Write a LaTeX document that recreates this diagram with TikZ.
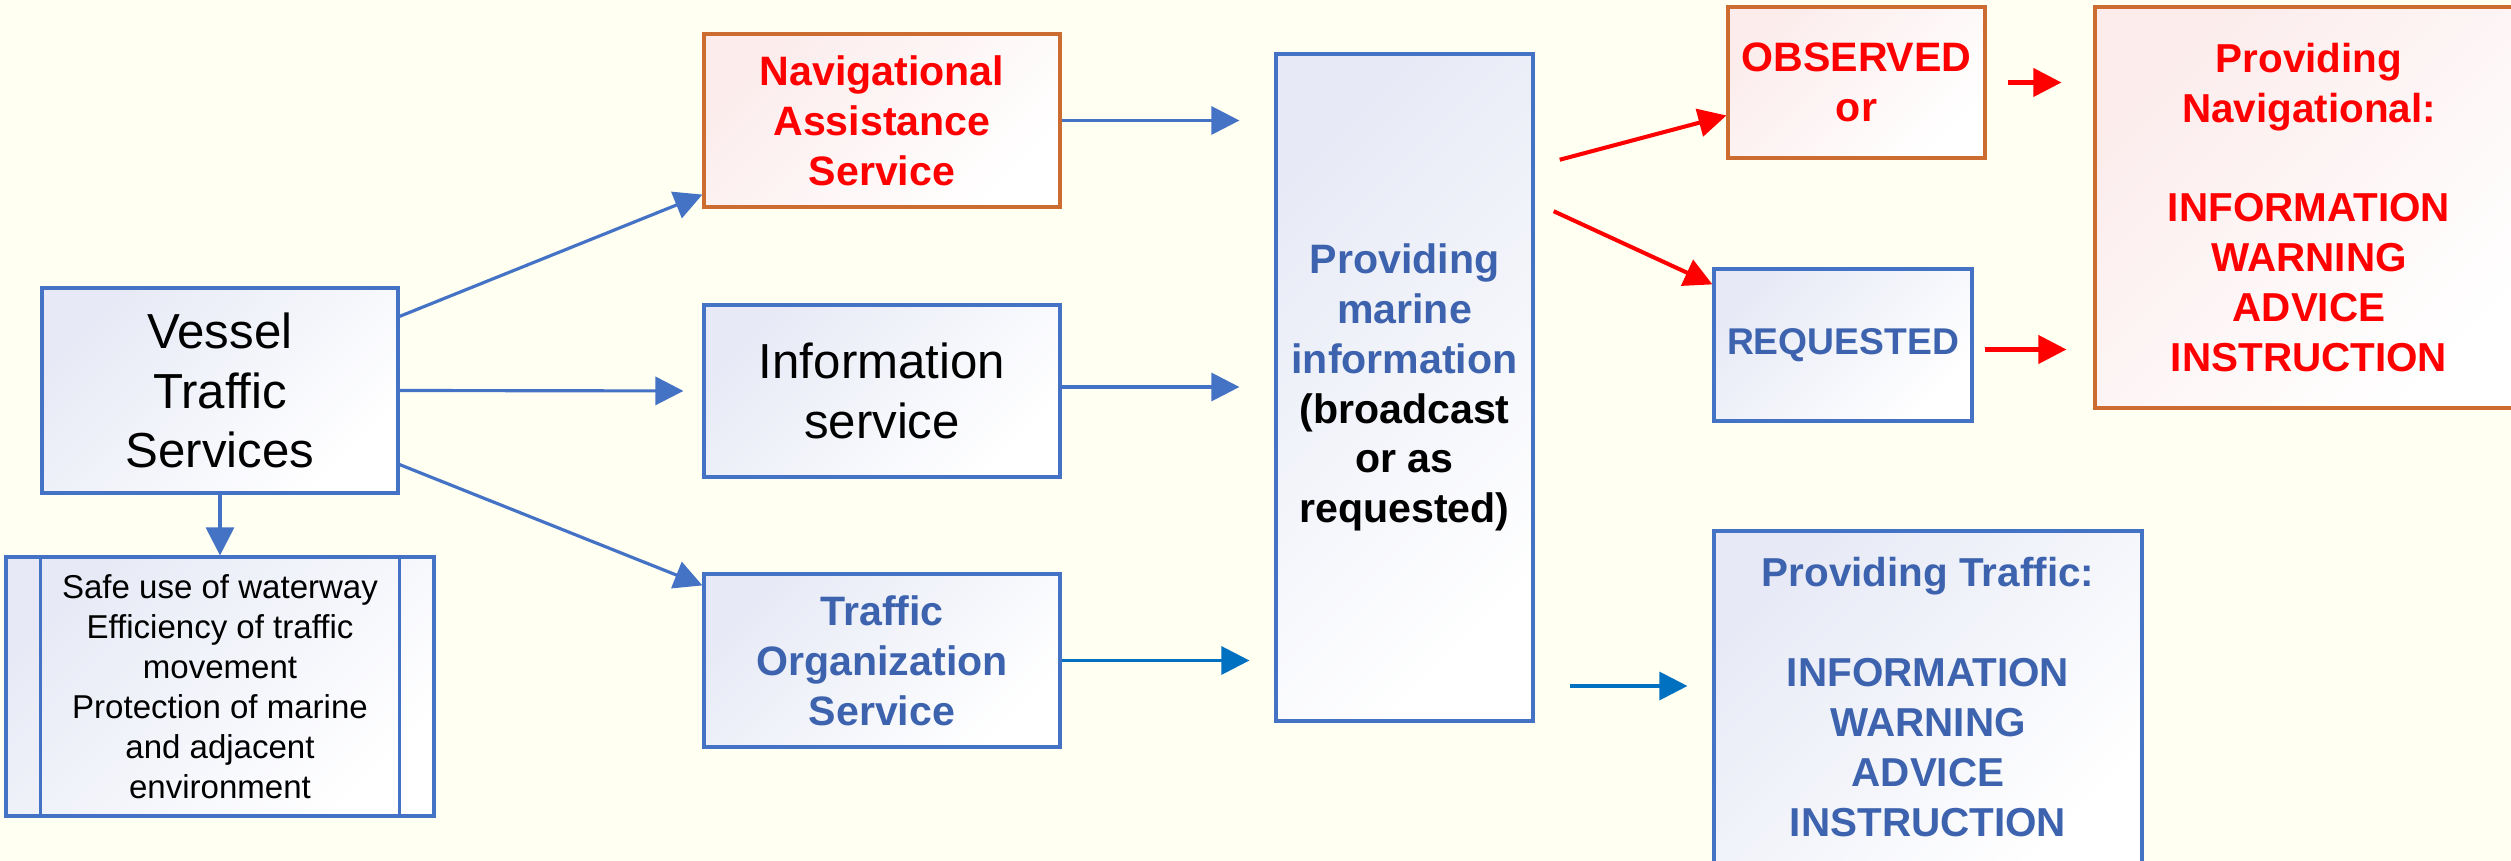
\documentclass[tikz,border=0pt]{standalone}
\usepackage{fontspec}
\setmainfont{Liberation Sans}
\usetikzlibrary{arrows.meta}

\definecolor{bgivory}{RGB}{255,255,242}
\definecolor{vtsblue}{RGB}{68,114,196}
\definecolor{textblue}{RGB}{61,99,174}
\definecolor{linkblue}{RGB}{0,112,192}
\definecolor{navorange}{RGB}{204,108,48}
\definecolor{bluetint}{RGB}{231,234,246}
\definecolor{redtint}{RGB}{252,236,236}

\begin{document}
\begin{tikzpicture}[
  bluebox/.style={draw=vtsblue, line width=0.9pt, top color=bluetint, bottom color=white, shading angle=45, align=center, inner sep=0pt},
  orangebox/.style={draw=navorange, line width=0.9pt, top color=redtint, bottom color=white, shading angle=45, align=center, inner sep=0pt},
  bigtext/.style={font=\fontsize{14}{17}\selectfont},
  boldtext/.style={font=\fontsize{11.7}{14.2}\selectfont\bfseries},
  listtext/.style={font=\fontsize{11.5}{14.2}\selectfont\bfseries},
  flow/.style={draw=vtsblue, line width=0.9pt, -{Triangle[length=0.28cm,width=0.28cm]}},
  tflow/.style={flow, draw=linkblue},
  rflow/.style={draw=red, line width=1.15pt, -{Triangle[length=0.28cm,width=0.28cm]}}
]
  % Background
  \fill[bgivory] (0,0) rectangle (25.11,-8.61);
  \useasboundingbox (0,0) rectangle (25.11,-8.61);

  % Vessel Traffic Services and goals
  \node[bluebox, bigtext, minimum width=3.56cm, minimum height=2.05cm] (vts) at (2.20,-3.905) {Vessel\\Traffic\\Services};
  \node[bluebox, font=\fontsize{9.4}{11.4}\selectfont, minimum width=4.28cm, minimum height=2.59cm] (goals) at (2.20,-6.865)
    {Safe use of waterway\\Efficiency of traffic\\movement\\Protection of marine\\and adjacent\\environment};
  \draw[vtsblue, line width=0.9pt] ([xshift=0.36cm]goals.north west) -- ([xshift=0.36cm]goals.south west);
  \draw[vtsblue, line width=0.9pt] ([xshift=-0.36cm]goals.north east) -- ([xshift=-0.36cm]goals.south east);

  % Services
  \node[orangebox, boldtext, text=red, minimum width=3.56cm, minimum height=1.73cm] (nav) at (8.82,-1.205) {Navigational\\Assistance\\Service};
  \node[bluebox, bigtext, minimum width=3.56cm, minimum height=1.72cm] (info) at (8.82,-3.91) {Information\\service};
  \node[bluebox, boldtext, text=textblue, minimum width=3.56cm, minimum height=1.73cm] (org) at (8.82,-6.605) {Traffic\\Organization\\Service};

  % Marine information
  \node[bluebox, boldtext, minimum width=2.57cm, minimum height=6.67cm] (marine) at (14.045,-3.875)
    {\textcolor{textblue}{Providing}\\\textcolor{textblue}{marine}\\\textcolor{textblue}{information}\\(broadcast\\or as\\requested)};

  % Observed / requested
  \node[orangebox, boldtext, text=red, minimum width=2.57cm, minimum height=1.51cm] (observed) at (18.565,-0.825) {OBSERVED\\or};
  \node[bluebox, font=\fontsize{10.6}{12.7}\selectfont\bfseries, text=textblue, minimum width=2.58cm, minimum height=1.52cm] (requested) at (18.43,-3.45) {REQUESTED};

  % Providing boxes
  \node[orangebox, listtext, text=red, minimum width=4.28cm, minimum height=4.01cm] (provnav) at (23.09,-2.075)
    {Providing\\Navigational:\\[14.2pt]INFORMATION\\WARNING\\ADVICE\\INSTRUCTION};
  \node[bluebox, listtext, text=textblue, minimum width=4.28cm, minimum height=3.32cm] (provtraffic) at (19.28,-6.97)
    {Providing Traffic:\\[14.2pt]INFORMATION\\WARNING\\ADVICE\\INSTRUCTION};

  % Arrows from VTS
  \draw[flow] ([yshift=-0.30cm]vts.north east) -- ([yshift=0.14cm]nav.south west);
  \draw[flow, shorten >=0.19cm] (vts.east) -- (info.west);
  \draw[flow] ([yshift=0.30cm]vts.south east) -- ([yshift=-0.13cm]org.north west);
  \draw[flow] (vts.south) -- (goals.north);

  % Arrows to marine information
  \draw[flow, shorten >=0.35cm] (nav.east) -- (marine.west |- nav.east);
  \draw[flow, shorten >=0.35cm] ([yshift=0.04cm]info.east) -- ([yshift=0.04cm]marine.west |- info.east);
  \draw[tflow, shorten >=0.25cm] (org.east) -- (marine.west |- org.east);

  % Red arrows
  \draw[rflow, shorten <=0.26cm] ([yshift=-1.14cm]marine.north east) -- ([yshift=-0.33cm]observed.west);
  \draw[rflow, shorten <=0.21cm] ([yshift=-1.50cm]marine.north east) -- ([yshift=-0.17cm]requested.north west);
  \draw[rflow, shorten <=0.21cm, shorten >=0.32cm] (observed.east) -- (provnav.west |- observed.east);
  \draw[rflow, shorten <=0.11cm, shorten >=0.27cm] ([yshift=-0.045cm]requested.east) -- ([yshift=-0.045cm]provnav.west |- requested.east);

  % Traffic arrow
  \coordinate (trafstart) at (15.70,-6.86);
  \draw[tflow, shorten >=0.25cm] (trafstart) -- (provtraffic.west |- trafstart);
\end{tikzpicture}
\end{document}
